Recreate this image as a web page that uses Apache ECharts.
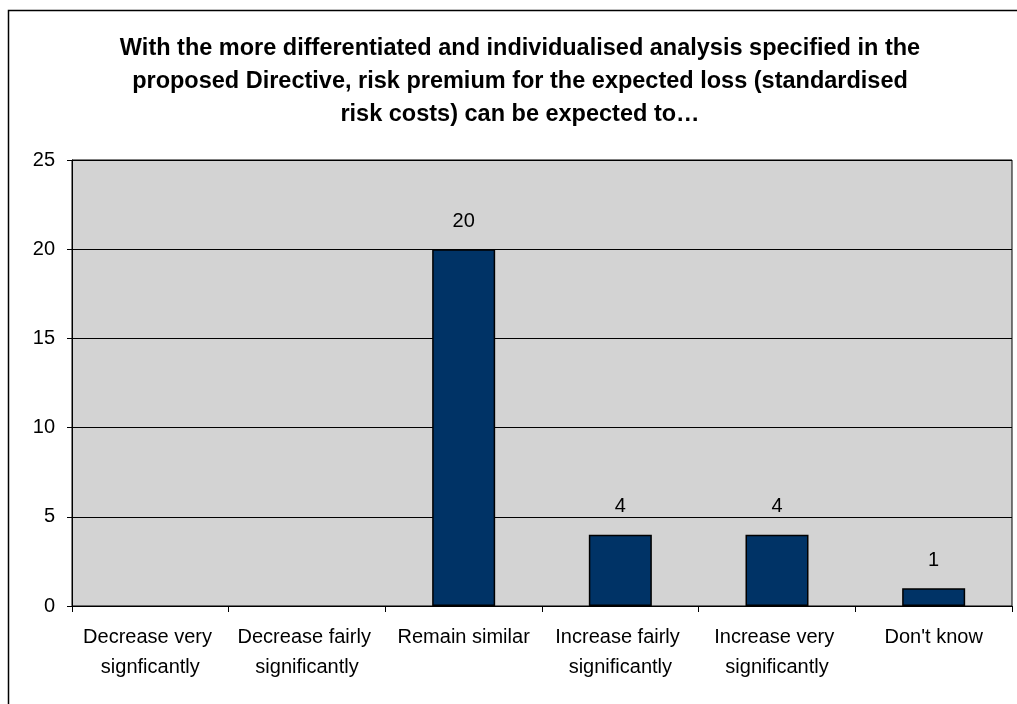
<!DOCTYPE html>
<html>
<head>
<meta charset="utf-8">
<style>
  html, body { margin: 0; padding: 0; background: #fff; }
  #main { width: 1017px; height: 704px; }
</style>
<script src="https://cdn.jsdelivr.net/npm/echarts@6/dist/echarts.min.js"></script>
</head>
<body>
<div id="main"></div>
<script>
// categories and counts
var categories = ['Decrease very signficantly', 'Decrease fairly significantly', 'Remain similar',
                  'Increase fairly significantly', 'Increase very significantly', "Don't know"];
var counts = [0, 0, 20, 4, 4, 1];
var yTicks = [0, 5, 10, 15, 20, 25];
var titleLines = [
    'With the more differentiated and individualised analysis specified in the',
    'proposed Directive, risk premium for the expected loss (standardised',
    'risk costs) can be expected to\u2026'
];

var myChart = echarts.init(document.getElementById('main'));

var font = 'Arial, "Liberation Sans", sans-serif';

var option = {
    animation: false,
    backgroundColor: '#fff',
    graphic: [
        {
            type: 'rect',
            shape: { x: 8.5, y: 10.5, width: 1100, height: 800 },
            style: { fill: 'none', stroke: '#000', lineWidth: 1.5 },
            silent: true
        },
        {
            type: 'text',
            x: 520,
            y: 32,
            style: {
                text: titleLines.join('\n'),
                font: 'bold 23.5px ' + font,
                lineHeight: 33,
                textAlign: 'center',
                fill: '#000'
            }
        }
    ],
    grid: {
        left: 72,
        right: 5,
        top: 160,
        bottom: 98,
        show: true,
        backgroundColor: '#D3D3D3',
        borderColor: '#000',
        borderWidth: 1
    },
    xAxis: {
        type: 'category',
        data: categories,
        axisLine: { lineStyle: { color: '#000', width: 1 } },
        axisTick: { show: true, alignWithLabel: false, length: 6, lineStyle: { color: '#000' } },
        axisLabel: {
            interval: 0,
            color: '#000',
            fontFamily: font,
            fontSize: 20,
            lineHeight: 30,
            margin: 16,
            width: 150,
            overflow: 'break'
        }
    },
    yAxis: {
        type: 'value',
        min: yTicks[0],
        max: yTicks[yTicks.length - 1],
        interval: 5,
        axisLine: { show: true, lineStyle: { color: '#000' } },
        axisTick: { show: true, length: 5, lineStyle: { color: '#000' } },
        axisLabel: { color: '#000', fontFamily: font, fontSize: 20, margin: 17 },
        splitLine: { show: true, lineStyle: { color: '#000', width: 1 } }
    },
    series: [
        {
            type: 'bar',
            data: counts.map(function (v) { return v === 0 ? null : v; }),
            barWidth: 63,
            itemStyle: { color: '#003366', borderColor: '#000', borderWidth: 1.5 },
            label: {
                show: true,
                position: 'top',
                distance: 18,
                color: '#000',
                fontFamily: font,
                fontSize: 20
            }
        }
    ]
};

myChart.setOption(option);
window.onresize = myChart.resize;
</script>
</body>
</html>
